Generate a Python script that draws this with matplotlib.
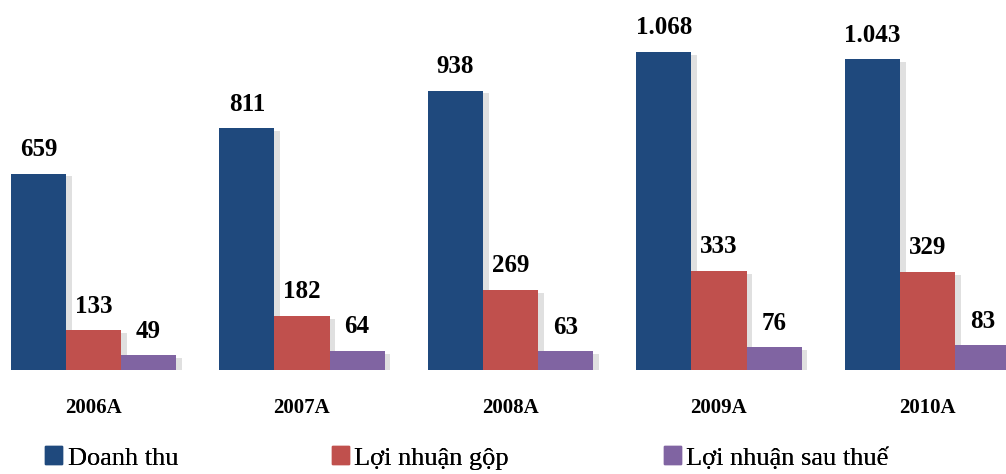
import matplotlib
matplotlib.use("Agg")
import matplotlib.pyplot as plt
import matplotlib.patheffects as pe
from matplotlib.patches import Patch
from matplotlib import font_manager
import numpy as np

plt.rcParams['font.family'] = ['Liberation Serif', 'DejaVu Serif']

years = ['2006A', '2007A', '2008A', '2009A', '2010A']
doanh_thu = [659, 811, 938, 1068, 1043]
ln_gop = [133, 182, 269, 333, 329]
ln_sau_thue = [49, 64, 63, 76, 83]
series_names = ['Doanh thu', 'Lợi nhuận gộp', 'Lợi nhuận sau thuế']
colors = ['#1F497D', '#C0504D', '#8064A2']

def fmt(v):
    # thousands separator as a dot
    return '{:,}'.format(v).replace(',', '.')

fig = plt.figure(figsize=(10.06, 4.74), dpi=100)
ax = fig.add_axes([0, 104 / 474, 1, 370 / 474])

x = np.arange(len(years))
w = 0.264
shadow = [pe.SimplePatchShadow(offset=(4, -2), shadow_rgbFace='#999999', alpha=0.3), pe.Normal()]

for k, vals in enumerate([doanh_thu, ln_gop, ln_sau_thue]):
    bars = ax.bar(x + (k - 1) * w, vals, w, color=colors[k], zorder=2)
    for b in bars:
        b.set_path_effects(shadow)
    for b, v in zip(bars, vals):
        ax.annotate(fmt(v), (b.get_x() + b.get_width() / 2, v), xytext=(0, 9),
                    textcoords='offset points', ha='center', va='bottom',
                    fontsize=18, fontweight='bold')

ax.set_xlim(-93.5 / 208.5, -93.5 / 208.5 + 1006 / 208.5)
ax.set_ylim(0, 1242)
ax.set_xticks(x)
ax.set_xticklabels(years, fontsize=15, fontweight='bold')
ax.tick_params(axis='x', length=0, pad=20)
ax.set_yticks([])
for s in ax.spines.values():
    s.set_visible(False)

# one legend entry per series, spread along the bottom
leg_font = font_manager.FontProperties(fname='/usr/share/fonts/truetype/liberation/LiberationSerif-Regular.ttf',
                                       size=19)
leg_x = [0.045, 0.330, 0.660]
for name, c, lx in zip(series_names, colors, leg_x):
    leg = fig.legend(handles=[Patch(color=c, label=name)], loc='center left',
                     bbox_to_anchor=(lx, 16 / 474), frameon=False, prop=leg_font,
                     handlelength=0.65, handleheight=0.65, handletextpad=0.2,
                     borderpad=0, borderaxespad=0)
    fig.add_artist(leg)

fig.savefig('out.png', dpi=100)
